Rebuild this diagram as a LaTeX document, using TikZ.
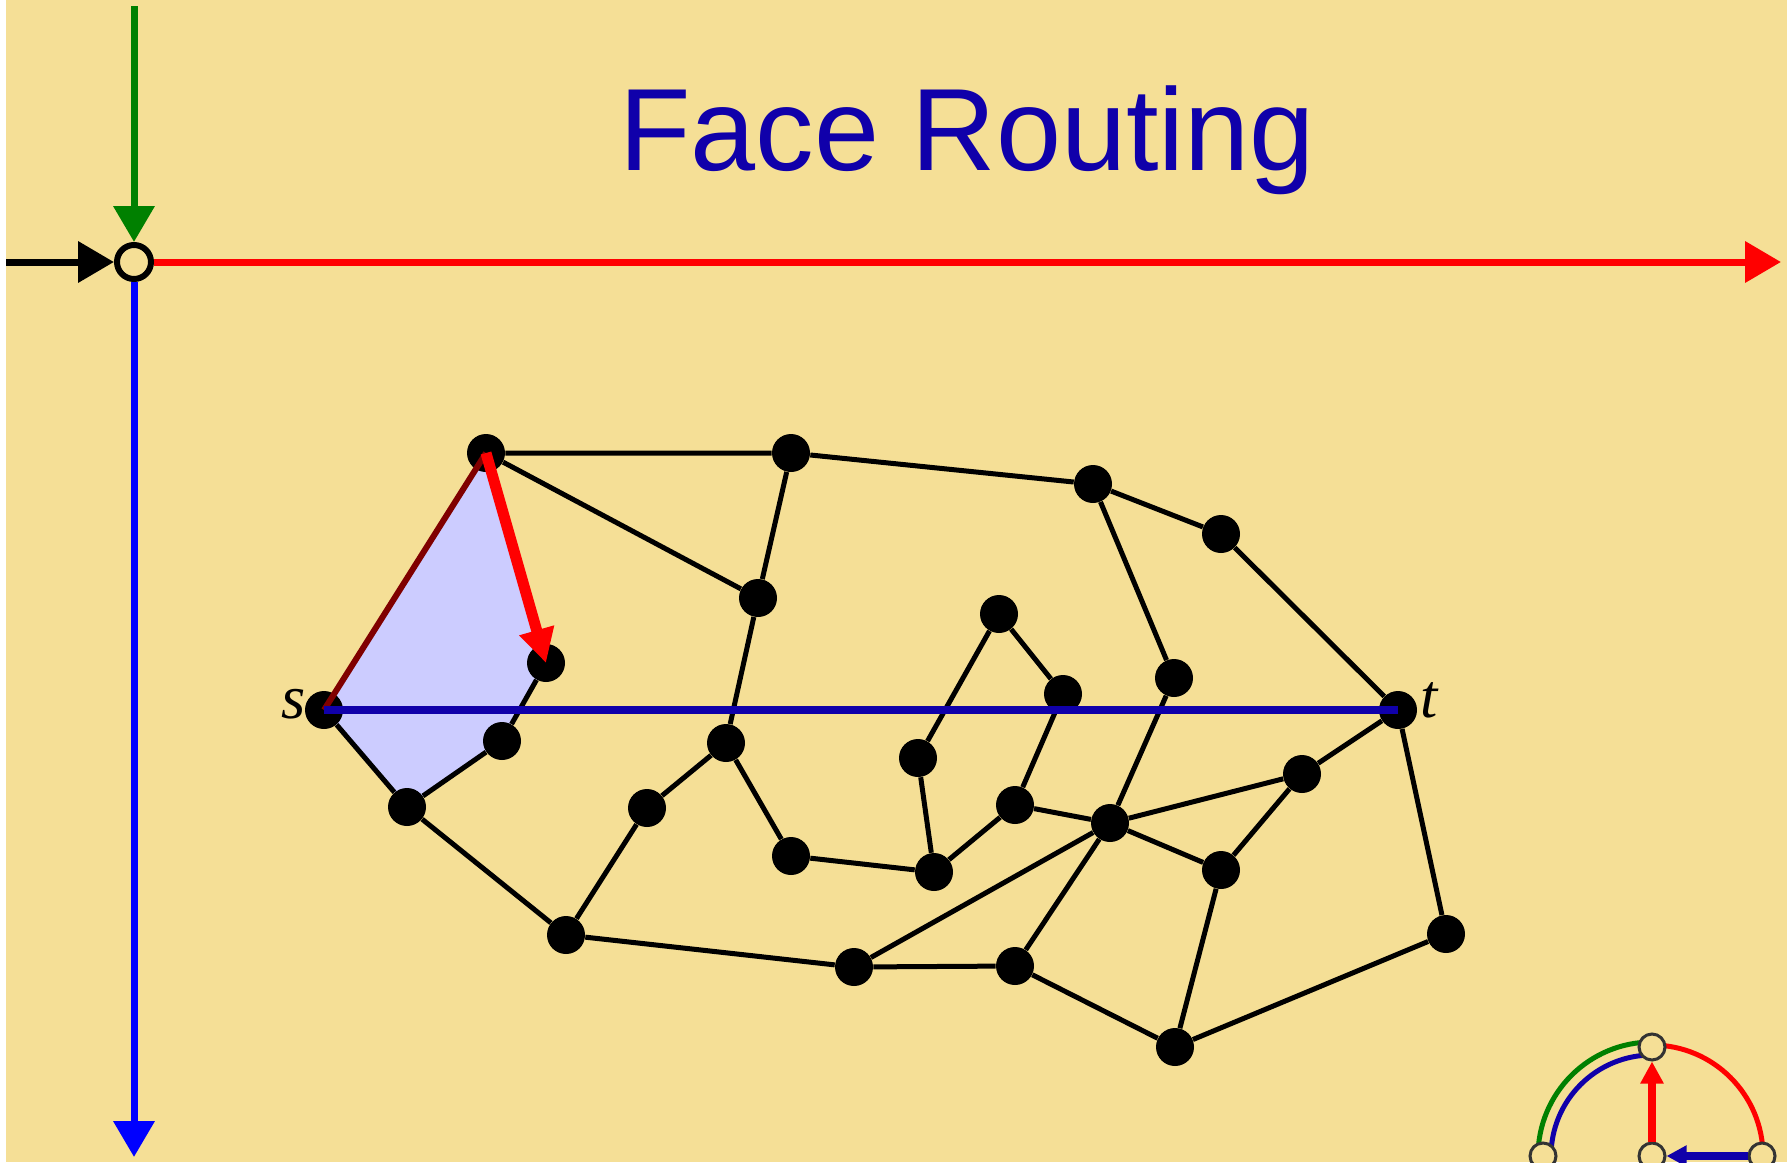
\documentclass[tikz,border=0pt]{standalone}
\usepackage{fontspec}
\setmainfont{Liberation Serif}
\newfontfamily\titlefont{Liberation Sans}
\usetikzlibrary{arrows.meta,backgrounds}
\definecolor{paper}{RGB}{245,223,150}
\definecolor{facefill}{RGB}{204,204,255}
\definecolor{navy}{RGB}{16,0,170}
\definecolor{darkred}{RGB}{128,0,0}
\definecolor{darkgreen}{RGB}{0,128,0}

\begin{document}
\begin{tikzpicture}[x=0.5pt, y=0.5pt,
    vertex/.style={circle, fill=black, inner sep=0pt, minimum size=19pt},
    link/.style={line width=2.5pt},
    axisarrow/.style={line width=3.5pt, -{Triangle[length=18pt,width=20pt]}},
    hollow/.style={circle, draw, fill=paper, inner sep=0pt}]
    % Fix the page and draw the paper
    \useasboundingbox (0,0) rectangle (1787,-1162);
    \begin{scope}[on background layer]
        \fill[paper] (6,0) rectangle (1787,-1162);
    \end{scope}

    % Draw the axes
    \node[hollow, line width=3pt, minimum size=17pt] (origin) at (134,-262) {};
    \coordinate (xstart) at (6,-262);
    \coordinate (xend) at (1781,-262);
    \coordinate (ystart) at (134,-6);
    \coordinate (yend) at (134,-1157);
    \draw[axisarrow, black] (xstart) -- (origin);
    \draw[axisarrow, darkgreen] (ystart) -- (origin);
    \draw[axisarrow, red] (origin) -- (xend);
    \draw[axisarrow, blue] (origin) -- (yend);

    % Add the title
    \node[anchor=base, text=navy, font=\titlefont\fontsize{58.5}{70}\selectfont] (title) at (967,-170) {Face Routing};

    % Draw the vertices
    \node[vertex] (a) at (486,-453) {};
    \node[vertex] (b) at (791,-453) {};
    \node[vertex] (c) at (1093,-484) {};
    \node[vertex] (d) at (1221,-534) {};
    \node[vertex] (e) at (758,-598) {};
    \node[vertex] (f) at (999,-614) {};
    \node[vertex] (g) at (546,-663) {};
    \node[vertex] (h) at (1063,-694) {};
    \node[vertex] (i) at (1174,-678) {};
    \node[vertex] (s) at (324,-710) {};
    \node[vertex] (t) at (1398,-710) {};
    \node[vertex] (j) at (502,-741) {};
    \node[vertex] (k) at (726,-743) {};
    \node[vertex] (l) at (918,-758) {};
    \node[vertex] (m) at (407,-807) {};
    \node[vertex] (n) at (647,-808) {};
    \node[vertex] (o) at (1015,-805) {};
    \node[vertex] (p) at (1110,-823) {};
    \node[vertex] (q) at (1302,-774) {};
    \node[vertex] (r) at (791,-856) {};
    \node[vertex] (u) at (934,-872) {};
    \node[vertex] (v) at (1221,-870) {};
    \node[vertex] (w) at (566,-935) {};
    \node[vertex] (x) at (854,-967) {};
    \node[vertex] (y) at (1015,-966) {};
    \node[vertex] (z) at (1446,-934) {};
    \node[vertex] (zz) at (1175,-1047) {};

    % Draw the edges
    \draw[link] (a) -- (b) (a) -- (e) (b) -- (e) (b) -- (c) (c) -- (d)
        (c) -- (i) (d) -- (t) (e) -- (k) (k) -- (n) (k) -- (r)
        (n) -- (w) (m) -- (w) (s) -- (m) (m) -- (j) (j) -- (g)
        (r) -- (u) (u) -- (l) (l) -- (f) (f) -- (h) (h) -- (o)
        (o) -- (u) (o) -- (p) (i) -- (p) (p) -- (q) (q) -- (t)
        (p) -- (v) (v) -- (q) (p) -- (x) (p) -- (y) (x) -- (y)
        (w) -- (x) (y) -- (zz) (v) -- (zz) (zz) -- (z) (z) -- (t);

    % Shade the first face
    \begin{scope}[on background layer]
        \fill[facefill] (s.center) -- (a.center) -- (g.center) -- (j.center) -- (m.center) -- cycle;
    \end{scope}

    % Draw the route
    \draw[darkred, line width=3pt] (s.center) -- (a.center);
    \draw[red, line width=5.5pt, -{Triangle[length=17pt,width=17pt]}] (a.center) -- (g.center);
    \draw[navy, line width=4pt] (s.center) -- (t.center);

    % Add the labels
    \node[anchor=base, inner sep=0pt, font=\itshape\fontsize{31}{37}\selectfont] (slabel) at (294,-718) {s};
    \node[anchor=base, inner sep=0pt, font=\itshape\fontsize{31}{37}\selectfont] (tlabel) at (1429,-717) {t};

    % Draw the small sketch in the corner
    \coordinate (mc) at (1652,-1156);
    \draw[darkgreen, line width=2.5pt] (mc) ++(90:114) arc[start angle=90, end angle=180, radius=114];
    \draw[navy, line width=2.5pt] (mc) ++(90:101) arc[start angle=90, end angle=180, radius=101];
    \draw[red, line width=2.5pt] (mc) ++(0:111) arc[start angle=0, end angle=90, radius=111];
    \node[hollow, draw=black!80, line width=1.5pt, minimum size=13pt] (m0) at (mc) {};
    \node[hollow, draw=black!80, line width=1.5pt, minimum size=13pt] (mleft) at (1543,-1156) {};
    \node[hollow, draw=black!80, line width=1.5pt, minimum size=13pt] (mtop) at (1652,-1047) {};
    \node[hollow, draw=black!80, line width=1.5pt, minimum size=13pt] (mright) at (1762,-1156) {};
    \draw[red, line width=4pt, -{Triangle[length=11pt,width=11pt]}] (m0) -- (mtop);
    \draw[navy, line width=4pt, -{Triangle[length=10pt,width=10pt]}] (mright) -- (m0);
\end{tikzpicture}
\end{document}
